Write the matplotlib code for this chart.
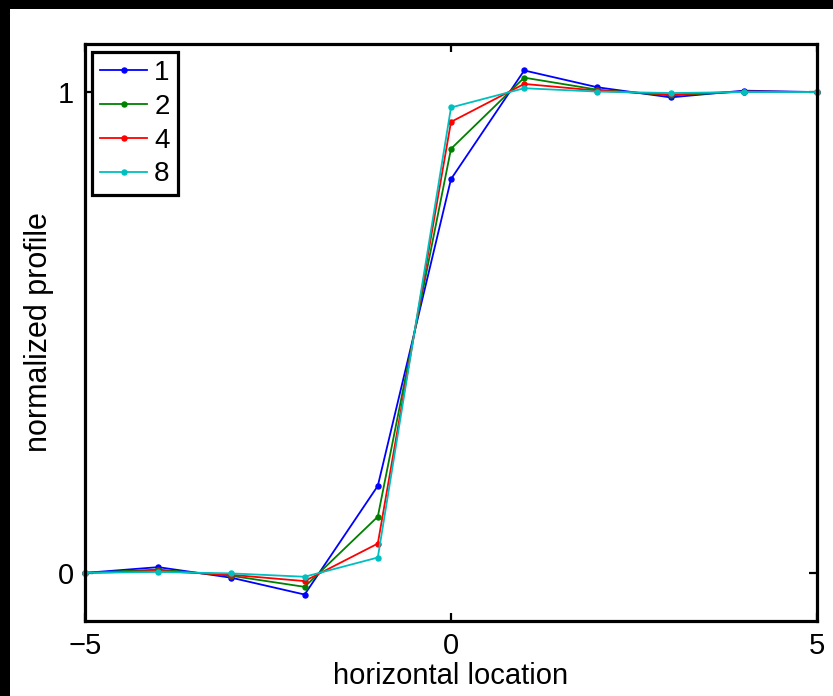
import matplotlib
matplotlib.use("Agg")
import matplotlib.pyplot as plt
from matplotlib.patches import Rectangle

x = [-5, -4, -3, -2, -1, 0, 1, 2, 3, 4, 5]
labels = ["1", "2", "4", "8"]
series_1 = [0.0, 0.012, -0.010, -0.045, 0.181, 0.819, 1.045, 1.010, 0.989, 1.003, 1.0]
series_2 = [0.0, 0.007, -0.006, -0.029, 0.117, 0.882, 1.030, 1.005, 0.993, 1.001, 1.0]
series_4 = [0.0, 0.004, -0.004, -0.017, 0.061, 0.938, 1.017, 1.003, 0.995, 1.001, 1.0]
series_8 = [0.0, 0.002, -0.001, -0.008, 0.032, 0.968, 1.008, 1.001, 0.998, 1.000, 1.0]
colors = ["#0000ff", "#008000", "#ff0000", "#00bfbf"]

plt.rcParams['font.family'] = ['Liberation Sans', 'DejaVu Sans']

W, H = 833, 696
fig = plt.figure(figsize=(W / 100, H / 100), dpi=100, facecolor='white')
# black screenshot border on the top and left
fig.patches.append(Rectangle((0, 0), 10 / W, 1, transform=fig.transFigure,
                             facecolor='black', edgecolor='none', zorder=-10))
fig.patches.append(Rectangle((0, 1 - 9 / H), 1, 9 / H, transform=fig.transFigure,
                             facecolor='black', edgecolor='none', zorder=-10))

ax = fig.add_axes([85 / W, 1 - 621 / H, (817 - 85) / W, (621 - 44) / H])
ax.set_zorder(5)
for ys, c, lab in zip([series_1, series_2, series_4, series_8], colors, labels):
    ax.plot(x, ys, color=c, lw=1.3, marker='o', ms=3.6, label=lab, clip_on=False)

ax.set_xlim(-5, 5)
ax.set_ylim(-0.1, 1.1)
ax.set_xticks([-5, 0, 5])
ax.set_xticklabels(["\u22125", "0", "5"])
ax.set_yticks([0, 1])
ax.tick_params(direction='in', length=6, width=1.6, top=True, right=True,
               labelsize=21, pad=8, colors='black')
for s in ax.spines.values():
    s.set_linewidth(2.3)

ax.set_xlabel("horizontal location", fontsize=21, labelpad=1)
ax.set_ylabel("normalized profile", fontsize=22, labelpad=3)

leg = ax.legend(loc='upper left', bbox_to_anchor=(7.3 / 732, 1 - 8.3 / 577),
                borderaxespad=0, fontsize=20, handlelength=1.7, handletextpad=0.25,
                borderpad=0.28, labelspacing=0.28, fancybox=False, framealpha=1,
                edgecolor='black')
leg.get_frame().set_linewidth(2.3)

fig.savefig("out.png", dpi=100, facecolor=fig.get_facecolor())
